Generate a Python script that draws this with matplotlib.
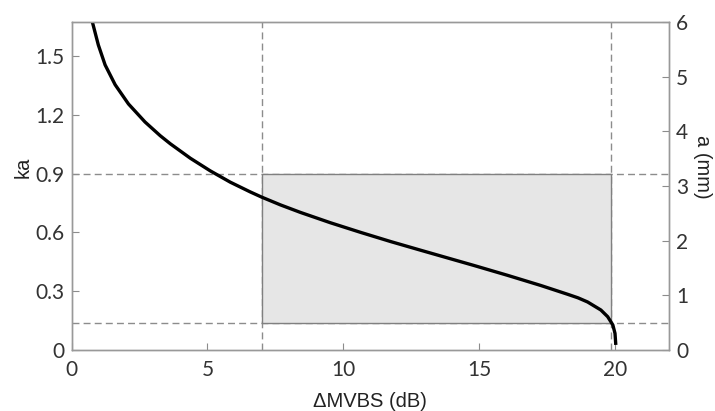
import matplotlib
matplotlib.use("Agg")
import matplotlib.pyplot as plt
from matplotlib.patches import Rectangle

# Curve: ΔMVBS (dB) vs ka
dmvbs = [0.74, 0.98, 1.23, 1.60, 2.09, 2.70, 3.26, 3.63, 4.37, 5.10, 5.84,
         6.58, 7.01, 7.69, 8.42, 9.53, 10.64, 11.75, 12.85, 13.96, 14.82,
         16.05, 17.28, 18.27, 18.65, 19.0, 19.49, 19.74, 19.93, 20.01, 20.04]
ka = [1.684, 1.556, 1.454, 1.353, 1.255, 1.163, 1.093, 1.052, 0.978, 0.914,
      0.856, 0.806, 0.779, 0.740, 0.702, 0.649, 0.600, 0.553, 0.509, 0.465,
      0.431, 0.381, 0.329, 0.284, 0.266, 0.245, 0.204, 0.170, 0.128, 0.085,
      0.026]

x_bounds = [7.0, 19.86]
ka_bounds = [0.136, 0.9]

x_ticks = [0, 5, 10, 15, 20]
ka_ticks = [0, 0.3, 0.6, 0.9, 1.2, 1.5]
ka_ticklabels = ["0", "0.3", "0.6", "0.9", "1.2", "1.5"]
a_ticks = [0, 1, 2, 3, 4, 5, 6]

fig = plt.figure(figsize=(7.15, 4.11), dpi=100)
ax = fig.add_axes([0.1003, 0.1484, 0.8354, 0.7981])

gray = "#8c8c8c"
tick_font = {"family": ["Lato", "DejaVu Sans"], "size": 15, "color": "#333333"}
label_font = {"family": ["Liberation Sans", "DejaVu Sans"], "size": 14.5, "color": "#222222"}

ax.set_xlim(0, 22)
ax.set_ylim(0, 1.673)

for xv in x_bounds:
    ax.axvline(xv, color=gray, lw=1.0, ls=(0, (5, 3)), zorder=1)
for yv in ka_bounds:
    ax.axhline(yv, color=gray, lw=1.0, ls=(0, (5, 3)), zorder=1)

rect = Rectangle((x_bounds[0], ka_bounds[0]), x_bounds[1] - x_bounds[0],
                 ka_bounds[1] - ka_bounds[0], facecolor="#e6e6e6",
                 edgecolor="#808080", lw=1.0, zorder=2)
ax.add_patch(rect)

ax.plot(dmvbs, ka, color="black", lw=2.4, zorder=3, solid_joinstyle="round",
        solid_capstyle="butt")

ax.set_xticks(x_ticks)
ax.set_xticklabels([str(t) for t in x_ticks], fontdict=tick_font)
ax.set_yticks(ka_ticks)
ax.set_yticklabels(ka_ticklabels, fontdict=tick_font)
ax.tick_params(direction="in", length=5, color=gray, width=0.8, pad=5)
ax.tick_params(axis="x", top=False, pad=7)

for s in ax.spines.values():
    s.set_color("#999999")
    s.set_linewidth(1.0)

ax.set_xlabel("ΔMVBS (dB)", fontdict=label_font, labelpad=9)
ax.set_ylabel("ka", fontdict=label_font)
ax.yaxis.set_label_coords(-0.066, 0.558)

ax2 = ax.twinx()
ax2.set_ylim(0, 6)
ax2.set_yticks(a_ticks)
ax2.set_yticklabels([str(t) for t in a_ticks], fontdict=tick_font)
ax2.tick_params(direction="in", length=5, color=gray, width=0.8, pad=5)
for s in ax2.spines.values():
    s.set_color("#999999")
    s.set_linewidth(1.0)
ax2.set_ylabel("a (mm)", fontdict=label_font, rotation=270)
ax2.yaxis.set_label_coords(1.072, 0.558)

fig.savefig("out.png", dpi=100)
